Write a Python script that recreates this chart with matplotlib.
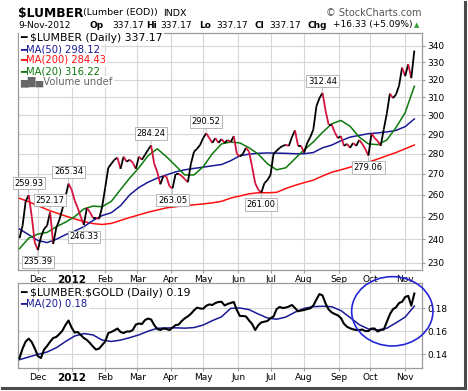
import matplotlib
matplotlib.use('Agg')
import matplotlib.pyplot as plt
from matplotlib.collections import LineCollection
from matplotlib.patches import Ellipse
from matplotlib.lines import Line2D
from matplotlib.ticker import FixedLocator, NullLocator, FuncFormatter
import numpy as np
import pandas as pd

plt.rcParams['text.parse_math'] = False

# $LUMBER closes, every 2nd trading day, ending 9-Nov-2012
lumber = [240.5, 246, 257, 259.93, 250, 238.5, 235.39, 241, 244.5, 246,
          252.17, 238, 245, 248.5, 253.5, 259, 265.34, 262.5, 257.5, 254,
          250, 246.33, 254, 252, 249.5, 249.5, 249, 254.5, 263.5, 273,
          275, 277, 278, 272.5, 278.5, 276, 277, 275.5, 272.5, 278.5,
          277, 279.5, 282, 284.24, 275, 271, 265, 269, 268.7, 264,
          263.05, 270, 270, 269, 267.5, 266, 275, 281, 282.5, 284.5,
          288, 290.52, 288, 285.5, 288, 285.5, 287.5, 285.5, 287, 286,
          289, 280, 278.6, 280, 283, 281, 273.5, 265.5, 262.5, 261.0,
          265.5, 267, 269.5, 280, 281.5, 283, 284, 284.5, 284, 288.5,
          292, 284, 284, 280.5, 285.5, 288.5, 292.5, 305, 309.5, 312.44,
          302.5, 295, 295, 291, 288, 289, 284, 285, 283, 285.5,
          284, 287, 285, 282.3, 279.06, 290.5, 288, 286.5, 284, 292.5,
          301, 312, 309.5, 311.5, 316.5, 327, 322, 329, 320.84, 337.17]

# $LUMBER:$GOLD ratio, same dates
ratio = [.1368, .145, .151, .1536, .1506, .145, .1385, .1368, .1441, .1472,
         .1509, .1541, .155, .1575, .1604, .1653, .1692, .1632, .1588, .1593,
         .1567, .1541, .1524, .1498, .1467, .1441, .145, .148, .1511, .1584,
         .1593, .1607, .1623, .1593, .1584, .1597, .1597, .161, .1657, .1666,
         .1662, .1696, .1709, .1701, .1653, .1619, .161, .1623, .1619, .161,
         .1632, .1653, .1657, .1688, .1711, .1728, .175, .178, .1803, .1796,
         .1794, .1819, .1831, .1826, .1843, .1852, .1854, .1822, .1835, .1843,
         .1852, .1783, .1731, .1731, .1727, .1692, .1662, .161, .1651, .1676,
         .1682, .1688, .1712, .1727, .1791, .1809, .18, .1804, .1813, .1826,
         .18, .1772, .1778, .1783, .1791, .1797, .1822, .1873, .1921, .1908,
         .1839, .1787, .1762, .1748, .1737, .1714, .1664, .1638, .1625, .1616,
         .161, .161, .1614, .1601, .1601, .1623, .1623, .1597, .161, .1614,
         .1679, .1746, .1789, .1806, .1843, .1854, .1895, .1905, .182, .1925]

# moving averages, every 6th trading day
ma50 = [244.5, 242, 239.5, 238.6, 240, 242, 243.6, 245.5, 248.3, 250.5,
        251.8, 255, 260, 263.5, 266, 268, 269.5, 271, 272, 272.7,
        273.3, 274, 274.6, 276.5, 279, 279.8, 280.2, 280.4, 280.3, 280.2,
        280, 280, 280.6, 283, 284.4, 286.6, 288.5, 289.4, 290.3, 290.7,
        291.2, 292, 294, 298.12]
ma200 = [258.4, 256.8, 255, 253.2, 251.7, 250.3, 249, 247.8, 246.9, 246.5,
         247, 248.3, 249.6, 250.8, 252, 253, 254, 254.5, 255, 255.4,
         255.8, 256.3, 257, 258.5, 259.5, 260.5, 261, 261, 261.2, 263,
         264.5, 265.8, 267, 269, 270.8, 272, 273.3, 274.5, 275.8, 277.3,
         279, 280.6, 282.5, 284.43]
ma20 = [236, 240.5, 242.3, 243, 245.5, 247.5, 250, 253.5, 254.8, 254.5,
        257, 262.5, 268, 273, 279, 282.5, 278.5, 274, 269.5, 269.5,
        273.5, 280, 285, 286, 285.5, 283, 279.8, 275, 272, 273,
        277.5, 282, 286, 291, 295.5, 297.3, 294.2, 288.5, 285, 284.6,
        287, 293.5, 301.5, 316.22]
ratio_ma20 = [.1354, .1377, .14, .142, .1457, .151, .1558, .1579, .1568, .1523,
              .1511, .1523, .1544, .1568, .16, .1625, .1628, .1629, .1626, .1631,
              .1653, .1691, .1724, .1797, .18, .1786, .1748, .1714, .1703, .1722,
              .1764, .1797, .1812, .1815, .1811, .1778, .1718, .1656, .1619, .161,
              .1625, .1672, .1722, .1816]

# labelled highs/lows (index into lumber, True = high)
label_idx = [3, 6, 10, 16, 21, 43, 50, 61, 79, 99, 114]
label_high = [True, False, True, True, False, True, False, True, False, True, False]

month_labels = ['Dec', '2012', 'Feb', 'Mar', 'Apr', 'May', 'Jun', 'Jul', 'Aug', 'Sep', 'Oct', 'Nov']
price_ticks = [230, 240, 250, 260, 270, 280, 290, 300, 310, 320, 330, 340]
ratio_ticks = [0.14, 0.16, 0.18]

days = pd.bdate_range('2011-11-14', '2012-11-16')
xp = days.get_indexer(pd.bdate_range(end='2012-11-09', periods=len(lumber), freq='2B'))
xm = days.get_indexer(pd.bdate_range(end='2012-11-09', periods=len(ma50), freq='6B'))
month_pos = days.searchsorted(pd.date_range('2011-12-01', '2012-11-01', freq='MS'))

W, H = 468, 391
def fx(px):
    return px / W
def fy(py):
    return 1 - py / H

fig = plt.figure(figsize=(W / 100, H / 100), dpi=100)
ax = fig.add_axes([fx(18), fy(270), fx(404), 237 / H])
ax2 = fig.add_axes([fx(18), fy(368), fx(404), 85 / H])

grid_c = '#d6d6d6'
spine_c = '#9a9a9a'
navy = '#1a1a96'
crimson = '#d4123c'

for a in (ax, ax2):
    a.set_xlim(0, 264)
    a.set_xticks(month_pos)
    a.set_xticklabels(month_labels)
    a.yaxis.tick_right()
    a.tick_params(axis='both', colors=spine_c, labelcolor='black', labelsize=6.5, length=2.5, width=0.8, pad=1.5)
    a.tick_params(axis='x', pad=1.0)
    a.grid(True, color=grid_c, lw=0.8)
    a.set_axisbelow(True)
    for s in a.spines.values():
        s.set_color(spine_c)
        s.set_linewidth(0.9)
    for lbl in a.get_xticklabels():
        if lbl.get_text() == '2012':
            lbl.set_fontweight('bold')
            lbl.set_fontsize(7.5)

# main panel
ax.set_yscale('log')
ax.set_ylim(227.1, 348)
ax.yaxis.set_major_locator(FixedLocator(price_ticks))
ax.yaxis.set_minor_locator(NullLocator())
ax.yaxis.set_major_formatter(FuncFormatter(lambda v, p: f'{v:.0f}'))

ax.plot(xm, ma200, color='#ff1010', lw=1.1, zorder=3)
ax.plot(xm, ma50, color=navy, lw=1.1, zorder=3)
ax.plot(xm, ma20, color='#0c7a0c', lw=1.1, zorder=3)

pts = np.column_stack([xp, lumber])
segs = np.stack([pts[:-1], pts[1:]], axis=1)
cols = ['black' if b >= a else crimson for a, b in zip(lumber[:-1], lumber[1:])]
ax.add_collection(LineCollection(segs, colors=cols, linewidths=1.3, zorder=4))

for k, up in zip(label_idx, label_high):
    v = lumber[k]
    ax.annotate(f'{v:.2f}', (xp[k], v), xytext=(0, 8.5 if up else -8.5),
                textcoords='offset points', ha='center', va='center', fontsize=6,
                bbox=dict(boxstyle='square,pad=0.2', fc='white', ec='#b5b5b5', lw=0.7),
                arrowprops=dict(arrowstyle='-', color='#b5b5b5', lw=0.6, shrinkA=0, shrinkB=1),
                zorder=6)

legend_rows = [('━ $LUMBER (Daily) 337.17', 'black', 7.8),
               ('━MA(50) 298.12', navy, 7.2),
               ('━MA(200) 284.43', '#ff1010', 7.2),
               ('━MA(20) 316.22', '#0c7a0c', 7.2),
               ('▆█▅Volume undef', '#666666', 7.2)]
for i, (txt, c, fs) in enumerate(legend_rows):
    ax.text(0.006, (270 - 38 - 11 * i) / 237, txt, transform=ax.transAxes, color=c,
            fontsize=fs, va='center', ha='left', zorder=7,
            bbox=dict(boxstyle='square,pad=0.1', fc='white', ec='none'))

# ratio panel
ax2.set_ylim(0.1282, 0.2016)
ax2.yaxis.set_major_locator(FixedLocator(ratio_ticks))
ax2.yaxis.set_major_formatter(FuncFormatter(lambda v, p: f'{v:.2f}'))
ax2.plot(xm, ratio_ma20, color=navy, lw=1.1, zorder=3)
ax2.plot(xp, ratio, color='black', lw=1.5, zorder=4)
for i, (txt, c, fs) in enumerate([('━ $LUMBER:$GOLD (Daily) 0.19', 'black', 7.8), ('━MA(20) 0.18', navy, 7.2)]):
    ax2.text(0.006, (368 - 293 - 11 * i) / 85, txt, transform=ax2.transAxes, color=c,
             fontsize=fs, va='center', ha='left', zorder=7,
             bbox=dict(boxstyle='square,pad=0.1', fc='white', ec='none'))

# header
fig.text(fx(18), fy(13), '$LUMBER', fontsize=8.8, fontweight='bold', va='center')
fig.text(fx(83), fy(13), '(Lumber (EOD))', fontsize=6.8, va='center')
fig.text(fx(163), fy(13), 'INDX', fontsize=6.8, va='center')
fig.text(fx(422), fy(13), '© StockCharts.com', fontsize=7, color='#555555', va='center', ha='right')
row2 = [(18, '9-Nov-2012', 'normal'), (90, 'Op', 'bold'), (112, '337.17', 'normal'),
        (146, 'Hi', 'bold'), (160, '337.17', 'normal'), (199, 'Lo', 'bold'),
        (216, '337.17', 'normal'), (255, 'Cl', 'bold'), (269, '337.17', 'normal'),
        (307, 'Chg', 'bold'), (333, '+16.33 (+5.09%)', 'normal')]
for px, txt, w in row2:
    fig.text(fx(px), fy(25), txt, fontsize=6.5, fontweight=w, va='center')
fig.text(fx(417), fy(25), '▲', fontsize=5, color='#2e9e2e', va='center', ha='center')

# highlight ellipse and frame shadow
fig.add_artist(Ellipse((fx(392.3), fy(311.3)), 81.3 / W, 69.3 / H, transform=fig.transFigure,
                       fill=False, ec='#2626d8', lw=1.2, zorder=10))
fig.add_artist(Line2D([fx(465), fx(465)], [fy(2), fy(388)], color='#4a4a4a', lw=2.2))
fig.add_artist(Line2D([fx(2), fx(465)], [fy(387.5), fy(387.5)], color='#4a4a4a', lw=2.2))

fig.savefig('out.png', dpi=100)
